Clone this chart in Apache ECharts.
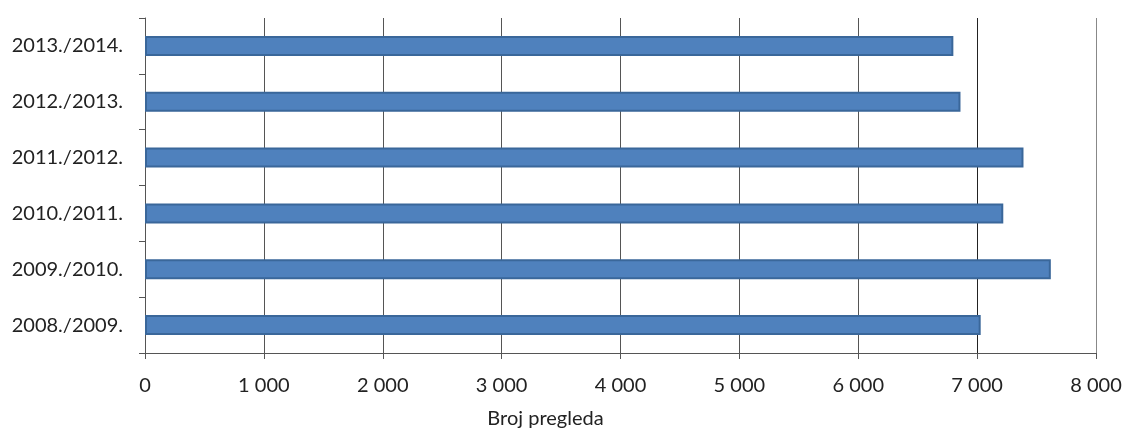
<!DOCTYPE html>
<html>
<head>
<meta charset="utf-8">
<script src="https://cdn.jsdelivr.net/npm/echarts@6/dist/echarts.min.js"></script>
<style>html,body{margin:0;padding:0;background:#fff;}#c{width:1122px;height:431px;}</style>
</head>
<body>
<div id="c"></div>
<script>
const categories = ['2008./2009.', '2009./2010.', '2010./2011.', '2011./2012.', '2012./2013.', '2013./2014.'];
const values = [7030, 7620, 7220, 7390, 6860, 6800];
const axisTitle = 'Broj pregleda';

const chart = echarts.init(document.getElementById('c'));
const font = 'Lato, "Open Sans", sans-serif';
chart.setOption({
  animation: false,
  grid: { left: 145, right: 26, top: 18, bottom: 78, containLabel: false, outerBoundsMode: 'none' },
  xAxis: {
    type: 'value', min: 0, max: 8000, interval: 1000,
    name: axisTitle, nameLocation: 'middle', nameGap: 56,
    nameTextStyle: { fontFamily: font, fontSize: 20, color: '#222', padding: [0, 150, 0, 0] },
    axisLine: { show: true, lineStyle: { color: '#555', width: 1 } },
    axisTick: { show: true, length: 6, lineStyle: { color: '#555' } },
    axisLabel: { margin: 23, fontFamily: font, fontSize: 20, color: '#222',
      formatter: v => String(v).replace(/\B(?=(\d{3})+(?!\d))/g, ' ') },
    splitLine: { show: true, lineStyle: { color: ['#555','#555','#555','#555','#555','#555','#555','#222','#888'], width: 1 } }
  },
  yAxis: {
    type: 'category', data: categories,
    axisLine: { show: true, lineStyle: { color: '#555', width: 1 } },
    axisTick: { show: true, length: 6, lineStyle: { color: '#555' } },
    axisLabel: { margin: 22, fontFamily: font, fontSize: 20, color: '#222' }
  },
  series: [{
    type: 'bar', data: values, barWidth: 20,
    itemStyle: { color: '#4F81BD', borderColor: '#3A679A', borderWidth: 2 }
  }]
});
</script>
</body>
</html>
